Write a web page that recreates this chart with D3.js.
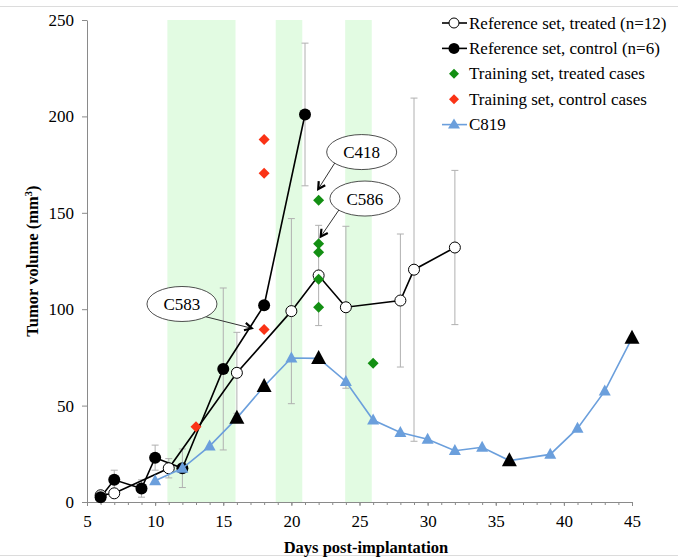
<!DOCTYPE html>
<html>
<head>
<meta charset="utf-8">
<script src="https://cdn.jsdelivr.net/npm/d3@7"></script>
<style>
  body { margin: 0; background: #fff; }
  svg text { font-family: "Liberation Serif", "Times New Roman", serif; }
</style>
</head>
<body>
<div id="chart"></div>
<script>
// reference set, treated (open circles)
const treatedDays = [6, 7, 11, 16, 20, 22, 24, 28, 29, 32]
const treatedVol = [3.5, 4.5, 17.5, 67, 99, 117.5, 101, 104.5, 120.5, 132]
const treatedErr = [0, 0, 5, 21, 48, 26, 42, 34.5, 89, 40]

// reference set, control (filled circles)
const controlDays = [6, 7, 9, 10, 12, 15, 18, 21]
const controlVol = [2.5, 11.5, 7, 23, 17.5, 69, 102, 201]
const controlErr = [0, 5, 4.5, 6.5, 10, 42, 0, 37]

// training set diamonds
const trainTreatedDays = [22, 22, 22, 22, 22, 26]
const trainTreatedVol = [156.5, 134, 129.5, 115.5, 101, 72]
const trainControlDays = [13, 18, 18, 18]
const trainControlVol = [39, 89.5, 170.5, 188]

// C819
const c819Days = [10, 12, 14, 16, 18, 20, 22, 24, 26, 28, 30, 32, 34, 36, 39, 41, 43, 45]
const c819Vol = [11, 17.5, 29, 43.5, 60, 74.7, 74.5, 62.5, 42.5, 36, 32.5, 26.6, 28.4, 21.5, 24.7, 38.2, 57.5, 85]
const c819BlackDays = [16, 18, 22, 36, 45]

// treatment windows (days)
const bands = [[10.9, 15.9], [18.85, 20.8], [23.95, 25.9]]

const xTicks = [5, 10, 15, 20, 25, 30, 35, 40, 45]
const yTicks = [0, 50, 100, 150, 200, 250]

// callouts: label, ellipse centre, arrow start, arrow tip (day, volume)
const callouts = [
    { label: "C418", c: [25.16, 181.5], from: [23.2, 176], to: [21.97, 162.3] },
    { label: "C586", c: [25.4, 157.4], from: [23.52, 151.8], to: [22.15, 137.6] },
    { label: "C583", c: [11.97, 102.7], from: [13.71, 96.1], to: [17.09, 90.1] }
]

const legendItems = [
    "Reference set, treated (n=12)",
    "Reference set, control (n=6)",
    "Training set, treated cases",
    "Training set, control cases",
    "C819"
]

const W = 700, H = 560
const margin = { top: 20, right: 68, bottom: 58, left: 87 }
const blue = "#6b9fdc", green = "#138f13", red = "#fa3316"
const serif = "'Liberation Serif', 'Times New Roman', serif"

const x = d3.scaleLinear().domain([5, 45]).range([margin.left, W - margin.right])
const y = d3.scaleLinear().domain([0, 250]).range([H - margin.bottom, margin.top])

const svg = d3.select("#chart").append("svg")
    .attr("width", W).attr("height", H)
    .attr("font-family", serif)

// frame lines
svg.append("line").attr("x1", 0).attr("x2", 678).attr("y1", 6.5).attr("y2", 6.5)
    .attr("stroke", "#dcdcdc")
svg.append("line").attr("x1", 0).attr("x2", 678).attr("y1", 555.5).attr("y2", 555.5)
    .attr("stroke", "#dcdcdc")

// green bands
svg.append("g").selectAll("rect").data(bands).enter().append("rect")
    .attr("x", d => x(d[0]))
    .attr("width", d => x(d[1]) - x(d[0]))
    .attr("y", y(250))
    .attr("height", y(0) - y(250))
    .attr("fill", "#e2fbe2")

// axes
svg.append("g")
    .attr("transform", `translate(0,${y(0)})`)
    .call(d3.axisBottom(x).tickValues(xTicks).tickSize(4).tickPadding(9).tickSizeOuter(0))
svg.append("g")
    .attr("transform", `translate(0,${y(0)})`)
    .call(d3.axisBottom(x).tickValues(d3.range(5, 46)).tickSize(3).tickFormat("").tickSizeOuter(0))
    .call(g => g.select(".domain").remove())
svg.append("g")
    .attr("transform", `translate(${x(5)},0)`)
    .call(d3.axisLeft(y).tickValues(yTicks).tickSize(5).tickPadding(8).tickSizeOuter(0))
svg.selectAll(".domain, .tick line").attr("stroke", "#8a8a8a")
svg.selectAll("g").attr("font-family", serif)
svg.selectAll(".tick text").attr("font-size", 17).attr("fill", "#000")

svg.append("text")
    .attr("x", 366).attr("y", 553)
    .attr("text-anchor", "middle")
    .attr("font-size", 16.5).attr("font-weight", "bold")
    .text("Days post-implantation")
const yt = svg.append("text")
    .attr("transform", `translate(38,${(y(0) + y(250)) / 2}) rotate(-90)`)
    .attr("text-anchor", "middle")
    .attr("font-size", 16.5).attr("font-weight", "bold")
yt.append("tspan").text("Tumor volume (mm")
yt.append("tspan").attr("font-size", 11).attr("dy", -6).text("3")
yt.append("tspan").attr("dy", 6).text(")")

// error bars
function errorBars(days, vols, errs) {
    const g = svg.append("g").attr("stroke", "#b0b0b0").attr("stroke-width", 1)
    days.forEach((d, i) => {
	if (!errs[i]) return
	const cx = x(d), top = y(vols[i] + errs[i]), bot = y(vols[i] - errs[i])
	g.append("line").attr("x1", cx).attr("x2", cx).attr("y1", top).attr("y2", bot)
	g.append("line").attr("x1", cx - 3.5).attr("x2", cx + 3.5).attr("y1", top).attr("y2", top)
	g.append("line").attr("x1", cx - 3.5).attr("x2", cx + 3.5).attr("y1", bot).attr("y2", bot)
    })
}
errorBars(treatedDays, treatedVol, treatedErr)
errorBars(controlDays, controlVol, controlErr)

const line = d3.line().x(d => x(d[0])).y(d => y(d[1]))
const zip = (a, b) => a.map((d, i) => [d, b[i]])

// treated and control lines, then their markers
svg.append("path").datum(zip(treatedDays, treatedVol))
    .attr("d", line).attr("fill", "none").attr("stroke", "#000").attr("stroke-width", 1.6)
svg.append("path").datum(zip(controlDays, controlVol))
    .attr("d", line).attr("fill", "none").attr("stroke", "#000").attr("stroke-width", 1.6)
svg.append("g").selectAll("circle").data(zip(treatedDays, treatedVol)).enter().append("circle")
    .attr("cx", d => x(d[0])).attr("cy", d => y(d[1])).attr("r", 5.5)
    .attr("fill", "#fff").attr("stroke", "#000").attr("stroke-width", 1)
svg.append("g").selectAll("circle").data(zip(controlDays, controlVol)).enter().append("circle")
    .attr("cx", d => x(d[0])).attr("cy", d => y(d[1])).attr("r", 6)
    .attr("fill", "#000")

function triangle(cx, cy, w, h) {
    return `M${cx},${cy - h * 0.6}L${cx + w / 2},${cy + h * 0.4}L${cx - w / 2},${cy + h * 0.4}Z`
}
function diamond(cx, cy, r) {
    return `M${cx},${cy - r}L${cx + r},${cy}L${cx},${cy + r}L${cx - r},${cy}Z`
}

// C819
const c819 = zip(c819Days, c819Vol)
svg.append("path").datum(c819)
    .attr("d", line).attr("fill", "none").attr("stroke", blue).attr("stroke-width", 1.6)
svg.append("g").selectAll("path").data(c819).enter().append("path")
    .attr("d", d => triangle(x(d[0]), y(d[1]), 12, 11))
    .attr("fill", blue)

// training diamonds
svg.append("g").selectAll("path").data(zip(trainTreatedDays, trainTreatedVol)).enter().append("path")
    .attr("d", d => diamond(x(d[0]), y(d[1]), 5.5)).attr("fill", green)
svg.append("g").selectAll("path").data(zip(trainControlDays, trainControlVol)).enter().append("path")
    .attr("d", d => diamond(x(d[0]), y(d[1]), 5.5)).attr("fill", red)

// black triangles on C819
svg.append("g").selectAll("path").data(c819.filter(d => c819BlackDays.includes(d[0]))).enter().append("path")
    .attr("d", d => triangle(x(d[0]), y(d[1]), 15, 14))
    .attr("fill", "#000")

// callouts
callouts.forEach(c => {
    const g = svg.append("g")
    const x1 = x(c.from[0]), y1 = y(c.from[1]), x2 = x(c.to[0]), y2 = y(c.to[1])
    const a = Math.atan2(y2 - y1, x2 - x1)
    g.append("line").attr("x1", x1).attr("y1", y1).attr("x2", x2).attr("y2", y2)
	.attr("stroke", "#333").attr("stroke-width", 1)
    const L = 8, s = 0.5
    g.append("path")
	.attr("d", `M${x2 - L * Math.cos(a - s)},${y2 - L * Math.sin(a - s)}L${x2},${y2}L${x2 - L * Math.cos(a + s)},${y2 - L * Math.sin(a + s)}`)
	.attr("fill", "none").attr("stroke", "#000").attr("stroke-width", 2.2)
    g.append("ellipse").attr("cx", x(c.c[0])).attr("cy", y(c.c[1]))
	.attr("rx", 35).attr("ry", 17.5)
	.attr("fill", "#fff").attr("stroke", "#222").attr("stroke-width", 0.8)
    g.append("text").attr("x", x(c.c[0])).attr("y", y(c.c[1]) + 6)
	.attr("text-anchor", "middle").attr("font-size", 17).text(c.label)
})

// legend
const leg = svg.append("g").attr("transform", "translate(454,23)")
legendItems.forEach((t, i) => {
    const g = leg.append("g").attr("transform", `translate(0,${i * 25.4})`)
    if (i === 0 || i === 1 || i === 4) {
	g.append("line").attr("x1", -12).attr("x2", 13).attr("stroke", i === 4 ? blue : "#000")
	    .attr("stroke-width", 1.6)
    }
    if (i === 0) g.append("circle").attr("r", 5).attr("fill", "#fff").attr("stroke", "#000")
    if (i === 1) g.append("circle").attr("r", 5.5).attr("fill", "#000")
    if (i === 2) g.append("path").attr("d", diamond(0, 0, 5)).attr("fill", green)
    if (i === 3) g.append("path").attr("d", diamond(0, 0, 5)).attr("fill", red)
    if (i === 4) g.append("path").attr("d", triangle(0, 0, 12, 10)).attr("fill", blue)
    g.append("text").attr("x", 15).attr("y", 5.5).attr("font-size", 17).text(t)
})
</script>
</body>
</html>
